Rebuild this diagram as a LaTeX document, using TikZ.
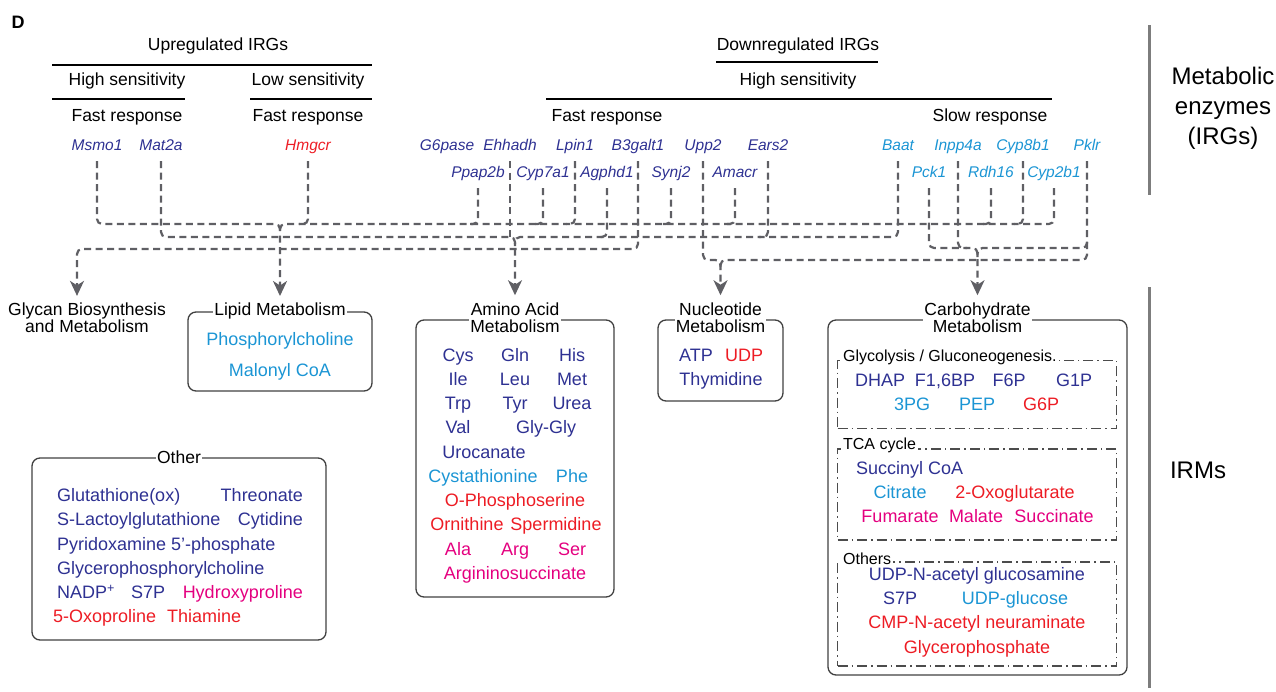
\documentclass[tikz,border=0pt]{standalone}
\usepackage{fontspec}
\setmainfont{Liberation Sans}
\usetikzlibrary{arrows.meta,calc}
\definecolor{upblue}{RGB}{46,49,146}
\definecolor{slowblue}{RGB}{27,149,212}
\definecolor{metred}{RGB}{237,28,36}
\definecolor{metpink}{RGB}{228,0,127}
\definecolor{linkgray}{RGB}{95,95,100}
\definecolor{rulegray}{RGB}{125,125,125}
\begin{document}
\begin{tikzpicture}[
            x=1pt, y=-1pt,
            every node/.style={align=center, inner sep=0pt},
            head/.style={font=\fontsize{17.5}{19}\selectfont},
            gene/.style={font=\fontsize{15.5}{17}\selectfont\itshape, text height=11pt, text depth=3pt, outer ysep=8pt},
            met/.style={font=\fontsize{18}{20}\selectfont, text height=12.5pt, text depth=3.5pt},
            group/.style={font=\fontsize{17.5}{17}\selectfont, fill=white, inner xsep=1pt},
            subgroup/.style={font=\fontsize{16}{18}\selectfont, fill=white, inner xsep=2pt, anchor=west},
            box/.style={draw=black!75, line width=1.3pt, rounded corners=8pt},
            subbox/.style={draw=black!70, line width=1.2pt, dash pattern=on 10pt off 4pt on 1.5pt off 4pt},
            rule/.style={line width=1.6pt},
            link/.style={draw=linkgray, line width=2.2pt, dash pattern=on 7pt off 4.5pt, rounded corners=5pt},
            into/.style={link, shorten >=7pt, -{Stealth[length=15pt, width=14pt, inset=4.5pt]}}
        ]
            \useasboundingbox (0,0) rectangle (1276,691);

            \node[font=\fontsize{18}{18}\selectfont\bfseries] (panel) at (18,22) {D};
            \node[head] (up) at (218,46) {Upregulated IRGs};
            \draw[rule] (52,65) -- (372,65);
            \node[head] (uphigh) at (127,81) {High sensitivity};
            \node[head] (uplow) at (308,81) {Low sensitivity};
            \draw[rule] (52,99) -- (185,99);
            \draw[rule] (250,99) -- (372,99);
            \node[head] (upfast) at (127,117) {Fast response};
            \node[head] (lowfast) at (308,117) {Fast response};
            \node[head] (down) at (798,46) {Downregulated IRGs};
            \draw[rule] (716,62) -- (878,62);
            \node[head] (downhigh) at (798,81) {High sensitivity};
            \draw[rule] (546,99) -- (1052,99);
            \node[head] (downfast) at (607,117) {Fast response};
            \node[head] (downslow) at (990,117) {Slow response};

            \draw[rulegray, line width=3pt] (1149,25) -- (1149,195);
            \draw[rulegray, line width=3pt] (1149,287) -- (1149,688);
            \node[font=\fontsize{24}{30}\selectfont] (enzymes) at (1223,108) {Metabolic\\enzymes\\(IRGs)};
            \node[font=\fontsize{24}{24}\selectfont] (irms) at (1198,470) {IRMs};

            \foreach \g/\x/\y/\c in {Msmo1/97/146/upblue, Mat2a/161/146/upblue, Hmgcr/308/146/metred,
                G6pase/447/146/upblue, Ehhadh/510/146/upblue, Lpin1/575/146/upblue, B3galt1/638/146/upblue,
                Upp2/703/146/upblue, Ears2/768/146/upblue, Ppap2b/478/173/upblue, Cyp7a1/543/173/upblue,
                Agphd1/607/173/upblue, Synj2/671/173/upblue, Amacr/735/173/upblue,
                Baat/898/146/slowblue, Inpp4a/958/146/slowblue, Cyp8b1/1023/146/slowblue, Pklr/1087/146/slowblue,
                Pck1/929/173/slowblue, Rdh16/991/173/slowblue, Cyp2b1/1054/173/slowblue}
                \node[gene, text=\c] (\g) at (\x,\y) {\g};

            \node[group] (glycan) at (87,318) {Glycan Biosynthesis\\and Metabolism};
            \node[box, minimum width=184pt, minimum height=79pt] (lipidbox) at (280,351.5) {};
            \node[group] (lipid) at (lipidbox.north) {Lipid Metabolism};
            \node[box, minimum width=198pt, minimum height=277pt] (aminobox) at (515,458.5) {};
            \node[group] (amino) at ([yshift=2pt]aminobox.north) {Amino Acid\\Metabolism};
            \node[box, minimum width=125pt, minimum height=81pt] (nucbox) at (720.5,360.5) {};
            \node[group] (nuc) at ([yshift=2pt]nucbox.north) {Nucleotide\\Metabolism};
            \node[box, minimum width=299pt, minimum height=355pt] (carbobox) at (977.5,497.5) {};
            \node[group] (carbo) at ([yshift=2pt]carbobox.north) {Carbohydrate\\Metabolism};
            \node[box, minimum width=294pt, minimum height=182pt] (otherbox) at (179,549) {};
            \node[group] (other) at (otherbox.north) {Other};

            \node[subbox, minimum width=279pt, minimum height=68pt] (glycobox) at (977,394.5) {};
            \node[subgroup] (glyco) at ([shift={(4pt,3pt)}]glycobox.north west) {Glycolysis / Gluconeogenesis.};
            \node[subbox, minimum width=279pt, minimum height=91pt] (tcabox) at (977,494.5) {};
            \node[subgroup] (tca) at ([shift={(4pt,3pt)}]tcabox.north west) {TCA cycle};
            \node[subbox, minimum width=279pt, minimum height=104pt] (othersbox) at (977,614) {};
            \node[subgroup] (others) at ([shift={(4pt,3pt)}]othersbox.north west) {Others};

            \foreach \x/\y/\a/\c/\t [count=\i] in {
                280/341/center/slowblue/Phosphorylcholine, 280/372/center/slowblue/Malonyl CoA,
                458/357/center/upblue/Cys, 515/357/center/upblue/Gln, 572/357/center/upblue/His,
                458/381/center/upblue/Ile, 515/381/center/upblue/Leu, 572/381/center/upblue/Met,
                458/405/center/upblue/Trp, 515/405/center/upblue/Tyr, 572/405/center/upblue/Urea,
                458/429/center/upblue/Val, 546/429/center/upblue/Gly-Gly, 484/454/center/upblue/Urocanate,
                483/478/center/slowblue/Cystathionine, 572/478/center/slowblue/Phe,
                515/502/center/metred/O-Phosphoserine,
                467/526/center/metred/Ornithine, 556/526/center/metred/Spermidine,
                458/551/center/metpink/Ala, 515/551/center/metpink/Arg, 572/551/center/metpink/Ser,
                515/575/center/metpink/Argininosuccinate,
                696/357/center/upblue/ATP, 744/357/center/metred/UDP, 721/381/center/upblue/Thymidine,
                880/382/center/upblue/DHAP, 945/382/center/upblue/{F1,6BP}, 1009/382/center/upblue/F6P,
                1074/382/center/upblue/G1P, 912/406/center/slowblue/3PG, 977/406/center/slowblue/PEP,
                1041/406/center/metred/G6P,
                856/470/west/upblue/Succinyl CoA, 900/494/center/slowblue/Citrate,
                1015/494/center/metred/2-Oxoglutarate,
                900/518/center/metpink/Fumarate, 976/518/center/metpink/Malate, 1054/518/center/metpink/Succinate,
                977/576/center/upblue/UDP-N-acetyl glucosamine, 900/600/center/upblue/S7P,
                1015/600/center/slowblue/UDP-glucose, 977/624/center/metred/CMP-N-acetyl neuraminate,
                977/649/center/metred/Glycerophosphate,
                57/497/west/upblue/Glutathione(ox), 303/497/east/upblue/Threonate,
                57/521/west/upblue/S-Lactoylglutathione, 303/521/east/upblue/Cytidine,
                57/546/west/upblue/Pyridoxamine 5'-phosphate, 57/570/west/upblue/Glycerophosphorylcholine,
                57/594/west/upblue/NADP\textsuperscript{+}, 131/594/west/upblue/S7P,
                303/594/east/metpink/Hydroxyproline,
                53/618/west/metred/5-Oxoproline, 167/618/west/metred/Thiamine}
                \node[met, text=\c, anchor=\a] (m\i) at (\x,\y) {\t};

            \coordinate (bus a) at (0,224);
            \coordinate (bus b) at (0,237);
            \coordinate (bus c) at (0,249);
            \coordinate (bus d) at (0,260);
            \coordinate (bus e) at (0,248);
            \coordinate (glycan in) at ([xshift=-10pt]glycan.north);
            \coordinate (lipid joint) at (lipid.north |- bus a);
            \coordinate (amino joint) at (amino.north |- bus b);
            \coordinate (nuc joint) at (nuc.north |- bus d);
            \coordinate (carbo joint) at (carbo.north |- bus e);

            \draw[into] (Msmo1.south) |- (lipid joint) -- (lipid.north);
            \draw[link] (Cyp2b1.south) |- (lipid joint) -- ([yshift=-9pt]lipid joint);
            \foreach \g in {Hmgcr, Ppap2b, Cyp7a1, Lpin1, Synj2, Amacr, Rdh16, Cyp8b1}
                \draw[link] (\g.south) |- ($(\g |- bus a)+(-9pt,0)$);

            \draw[into] (Mat2a.south) |- (amino joint) -- (amino.north);
            \draw[link] (Baat.south) |- (amino joint) -- ([yshift=-9pt]amino joint);
            \foreach \g in {Agphd1, Ears2}
                \draw[link] (\g.south) |- ($(\g |- bus b)+(-9pt,0)$);
            \draw[link] (Ehhadh.south) -- (Ehhadh |- bus b);

            \draw[into] (B3galt1.south) |- (glycan in |- bus c) -- (glycan in);

            \draw[into] (Pck1.south) |- (carbo joint) -- (carbo.north);
            \draw[link] (Pklr.south) |- (carbo joint) -- ([yshift=-9pt]carbo joint);
            \draw[link] (Inpp4a.south) |- ($(Inpp4a |- bus e)+(9pt,0)$);

            \draw[into] (Upp2.south) |- (nuc joint) -- (nuc.north);
            \draw[link] ($(Pklr |- bus e)+(0,6pt)$) |- (nuc joint) -- ([yshift=-9pt]nuc joint);
        \end{tikzpicture}
\end{document}
